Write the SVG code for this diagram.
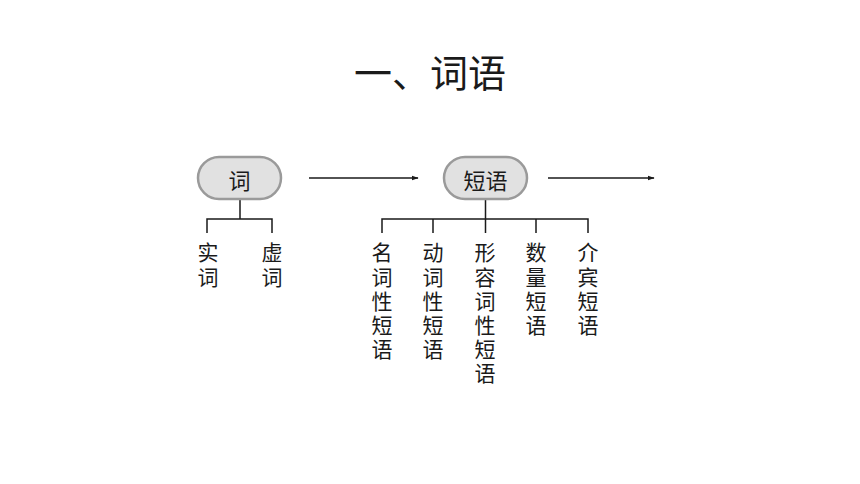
<svg xmlns="http://www.w3.org/2000/svg" width="860" height="484" viewBox="0 0 860 484">
<defs>
<style>
text{font-family:"Noto Sans CJK SC","Noto Sans CJK JP",sans-serif;fill:#1a1a1a}
.title{font-size:38px;text-anchor:middle;dominant-baseline:central}
.lbl{font-size:22px;text-anchor:middle;dominant-baseline:central}
.col{font-size:21px;writing-mode:vertical-rl;text-anchor:start;letter-spacing:3.2px}
.pill{fill:#e1e1e1;stroke:#9a9a9a;stroke-width:2.5}
.ln{stroke:#1a1a1a;stroke-width:1.5;fill:none}
</style>
<marker id="ah" viewBox="0 0 10 10" refX="9" refY="5" markerWidth="7" markerHeight="7" markerUnits="userSpaceOnUse" orient="auto">
<path d="M0,1.5 L10,5 L0,8.5 Z" fill="#1a1a1a"/>
</marker>
</defs>
<rect width="860" height="484" fill="#ffffff"/>
<text class="title" x="430" y="70">一、词语</text>
<g id="connectors">
<line class="ln" x1="309" y1="178" x2="418" y2="178" marker-end="url(#ah)"/>
<line class="ln" x1="548" y1="178" x2="654" y2="178" marker-end="url(#ah)"/>
<path class="ln" d="M240,199 V219 M207,233 V219 H272 V233"/>
<path class="ln" d="M485.5,200 V219 M382,233 V219 H588 V233 M433,219 V233 M485.5,219 V233 M536,219 V233"/>
</g>
<g id="node-ci">
<rect class="pill" x="198" y="157" width="83" height="42" rx="21"/>
<text class="lbl" x="239.5" y="179">词</text>
</g>
<g id="node-duanyu">
<rect class="pill" x="444" y="157" width="83" height="42" rx="21"/>
<text class="lbl" x="485.5" y="179">短语</text>
</g>
<g id="node-shici"><text class="col" x="208" y="242">实词</text></g>
<g id="node-xuci"><text class="col" x="272" y="242">虚词</text></g>
<g id="node-mingci"><text class="col" x="382" y="242">名词性短语</text></g>
<g id="node-dongci"><text class="col" x="433" y="242">动词性短语</text></g>
<g id="node-xingrongci"><text class="col" x="485" y="242">形容词性短语</text></g>
<g id="node-shuliang"><text class="col" x="536" y="242">数量短语</text></g>
<g id="node-jiebin"><text class="col" x="588" y="242">介宾短语</text></g>
</svg>
